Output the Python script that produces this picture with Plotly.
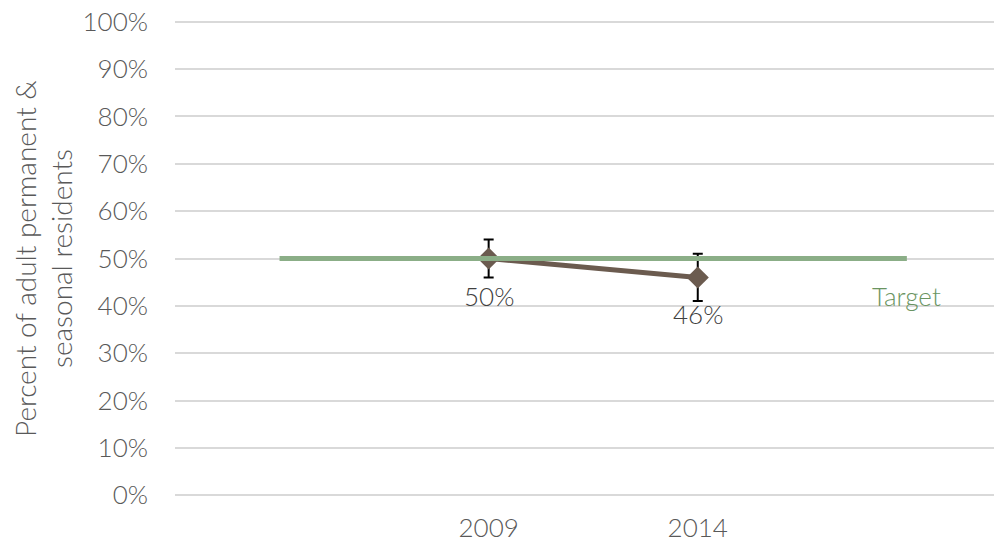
import plotly.graph_objects as go

# ---- data ----
categories = ["", "2009", "2014", ""]
series_years = ["2009", "2014"]
series_values = [0.50, 0.46]
series_err = [0.04, 0.05]
target_value = 0.50
y_ticks = [0.0, 0.1, 0.2, 0.3, 0.4, 0.5, 0.6, 0.7, 0.8, 0.9, 1.0]

cat_index = {c: i for i, c in enumerate(categories) if c}
sx = [cat_index[y] for y in series_years]
tx = list(range(len(categories)))

FONT = "Lato"
GRID = "#d9d9d9"
LINE = "#6b5b4f"
GREEN = "#8bae87"
GREEN_TXT = "#6a9461"
TXT = "#595959"

fig = go.Figure()
fig.add_trace(go.Scatter(
    x=sx, y=series_values, mode="lines+markers",
    line=dict(color=LINE, width=5),
    marker=dict(symbol="diamond", size=17, color=LINE),
    error_y=dict(type="data", array=series_err, color="#000000", thickness=2, width=5),
    showlegend=False, hoverinfo="skip",
))
fig.add_trace(go.Scatter(
    x=tx, y=[target_value] * len(tx), mode="lines",
    line=dict(color=GREEN, width=5),
    showlegend=False, hoverinfo="skip",
))

for x, v in zip(sx, series_values):
    fig.add_annotation(x=x, y=v, text=f"{v:.0%}", showarrow=False, yshift=-37,
                       font=dict(family=FONT, size=26, color="#404040", weight=300))
fig.add_annotation(x=tx[-1], y=target_value, text="Target", showarrow=False, yshift=-37,
                   font=dict(family=FONT, size=26, color=GREEN_TXT, weight=300))

fig.update_layout(
    width=994, height=536,
    margin=dict(l=167, r=0, t=9, b=44, autoexpand=False),
    paper_bgcolor="white", plot_bgcolor="white",
    font=dict(family=FONT, size=26, color=TXT, weight=300),
)
fig.update_xaxes(
    range=[-0.5, 3.455],
    tickvals=sx, ticktext=series_years,
    showgrid=False, zeroline=False, showline=False,
    ticks="", ticklabelstandoff=10, ticklabeloverflow="allow",
    tickfont=dict(family=FONT, size=26, color=TXT, weight=300),
)
fig.update_yaxes(
    range=[-0.01, 1.01],
    tickvals=y_ticks, tickformat=".0%",
    showgrid=True, gridcolor=GRID, gridwidth=1.5,
    zeroline=True, zerolinecolor=GRID, zerolinewidth=1.5,
    showline=False, ticks="",
    ticklabelstandoff=26, ticklabeloverflow="allow",
    tickfont=dict(family=FONT, size=26, color=TXT, weight=300),
    title=dict(text="Percent of adult permanent &<br>seasonal residents",
               font=dict(family=FONT, size=28, color=TXT, weight=300),
               standoff=18),
)

fig.write_html("out.html")
